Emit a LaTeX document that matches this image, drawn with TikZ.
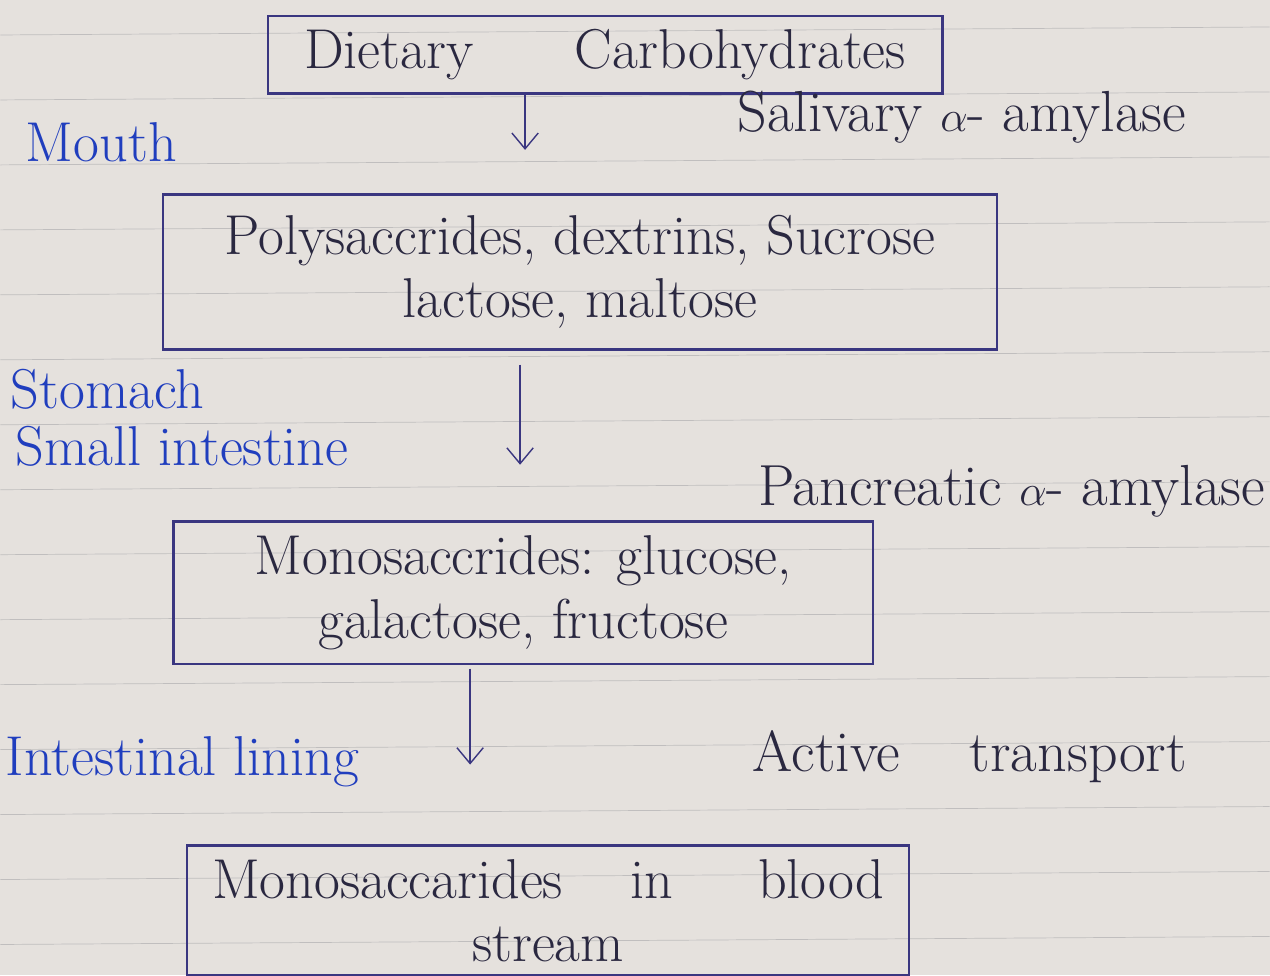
\documentclass[tikz,border=0pt]{standalone}
\usepackage{amsmath}
\usetikzlibrary{arrows.meta}
\definecolor{paper}{RGB}{229,225,221}
\definecolor{rule}{RGB}{192,190,190}
\definecolor{ink}{RGB}{58,54,128}
\definecolor{pen}{RGB}{42,40,64}
\definecolor{blueink}{RGB}{32,62,190}

\begin{document}
\begin{tikzpicture}[
            x = 0.02cm, y = -0.02cm, % one unit = one pixel of the page
            > = {Straight Barb[length=9pt,width=15pt]}, % open pen arrow
            semithick
            ]

        \tikzstyle{box}=[
            draw = ink,
            line width = 1.4pt,
            text = pen,
            align = center,
            font = \fontsize{32}{36}\selectfont
        ]
        \tikzstyle{organ}=[text = blueink, anchor = west, inner sep = 0pt,
            font = \fontsize{32}{36}\selectfont]
        \tikzstyle{enzyme}=[text = pen, inner sep = 0pt,
            font = \fontsize{33}{36}\selectfont]

        % the page
        \fill[paper] (0,0) rectangle (1270,976);
        \foreach \y in {35,100,...,976}
            \draw[rule, thin] (0,\y) -- (1270,\y-8);
        \useasboundingbox (0,0) rectangle (1270,976);

	% boxes
        \node[box, minimum width = 13.5cm, minimum height = 1.55cm] (diet) at (605,55)
            {Dietary \hspace{1.2em} Carbohydrates};
        \node[box, minimum width = 16.7cm, minimum height = 3.1cm] (poly) at (580,272)
            {Polysaccrides, dextrins, Sucrose\\lactose, maltose};
        \node[box, minimum width = 14cm, minimum height = 2.85cm] (mono) at (523,593)
            {Monosaccrides: glucose,\\galactose, fructose};
        \node[box, minimum width = 14.45cm, minimum height = 2.6cm] (blood) at (548,911)
            {Monosaccarides \hspace{0.6em} in \hspace{0.9em} blood\\stream};

	% where it happens
        \node[organ] (mouth) at (25,142) {Mouth};
        \node[organ] (stom) at (10,390) {Stomach};
        \node[organ] (small) at (15,447) {Small intestine};
        \node[organ] (lining) at (5,762) {Intestinal lining};

	% enzymes
        \node[enzyme] (saliva) at (962,117) {Salivary $\alpha$- amylase};
        \node[enzyme, anchor = east] (pancr) at (1266,492) {Pancreatic $\alpha$- amylase};
        \node[enzyme] (active) at (970,757) {Active \hspace{0.6em} transport};

	% steps
        \coordinate (a1) at (525,150);
        \coordinate (a2) at (520,465);
        \coordinate (a3) at (470,765);
        \draw[->, ink, thick] (diet.south -| a1) -- (a1);
        \draw[->, ink, thick, shorten <= 8pt] (poly.south -| a2) -- (a2);
        \draw[->, ink, thick, shorten <= 2pt] (mono.south -| a3) -- (a3);

  \end{tikzpicture}
\end{document}
